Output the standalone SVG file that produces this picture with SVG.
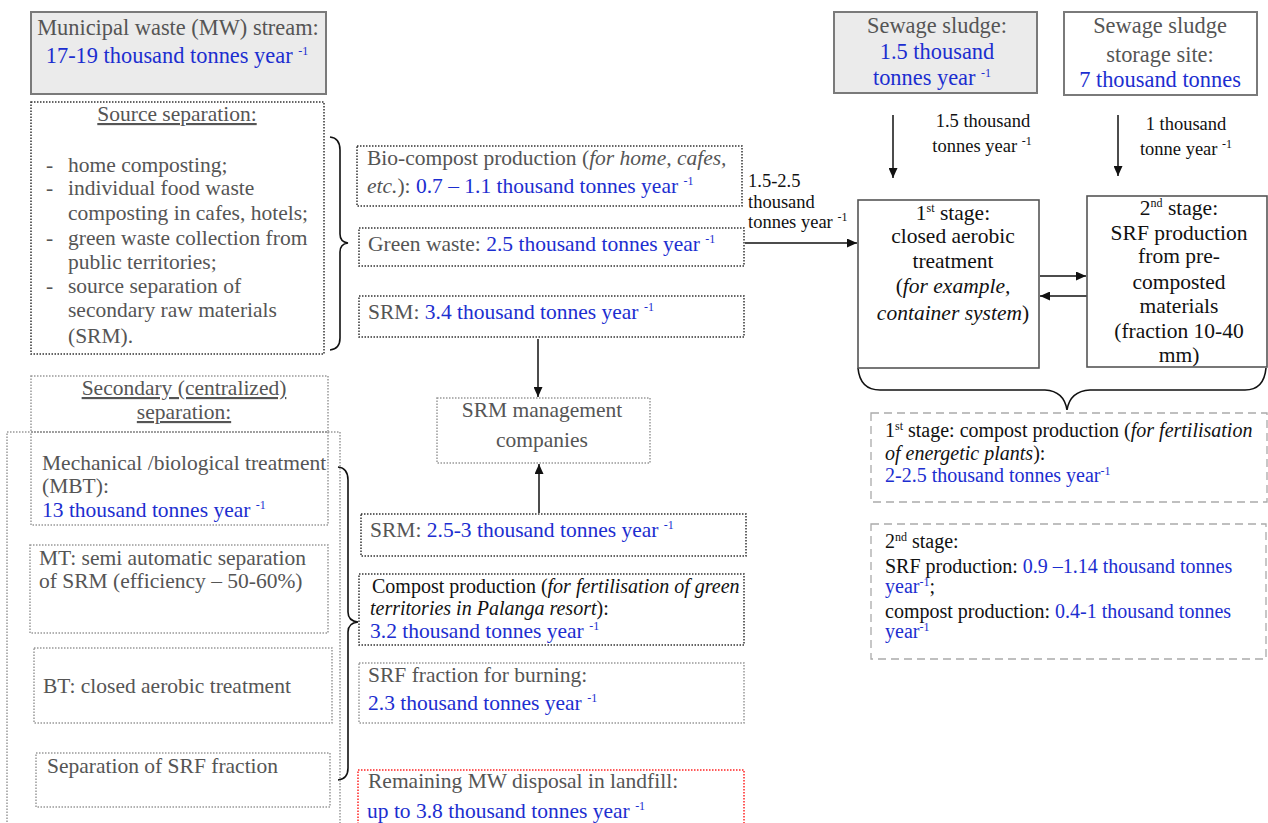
<svg xmlns="http://www.w3.org/2000/svg" width="1268" height="823" viewBox="0 0 1268 823">
<defs>
<style>
text{font-family:"Liberation Serif","Times New Roman",serif;}
.g{fill:#555;}
.k{fill:#111;}
.b{fill:#1c2ed0;}
.f21{font-size:21.5px;}
.f22{font-size:22.4px;}
.f18{font-size:18.5px;}
.f20{font-size:20px;}
.sup{font-size:12px;}
.it{font-style:italic;}
.u{text-decoration:underline;}
.mid{text-anchor:middle;}
.solid{fill:none;stroke:#555;stroke-width:1.6;}
.head{fill:#ebebeb;stroke:#7a7a7a;stroke-width:2;}
.headw{fill:#fff;stroke:#7a7a7a;stroke-width:2;}
.dk{fill:none;stroke:#333;stroke-width:1.5;stroke-dasharray:1.5 1.5;}
.gr{fill:none;stroke:#999;stroke-width:1.5;stroke-dasharray:1.5 1.5;}
.rd{fill:none;stroke:#f22;stroke-width:1.5;stroke-dasharray:1.5 1.5;}
.ds{fill:none;stroke:#aaa;stroke-width:1.3;stroke-dasharray:8 5;}
.brace{fill:none;stroke:#111;stroke-width:1.6;}
.arr{fill:none;stroke:#111;stroke-width:1.5;marker-end:url(#ah);}
</style>
<marker id="ah" markerUnits="userSpaceOnUse" markerWidth="10" markerHeight="9" refX="10" refY="4.5" orient="auto">
<path d="M0,0 L10,4.5 L0,9 z" fill="#111"/>
</marker>
</defs>

<g id="connectors">
<path class="arr" d="M538,339 L538,397"/>
<path class="arr" d="M539,513 L539,464"/>
<path class="arr" d="M745,243 L857,243"/>
<path class="arr" d="M893,115 L893,178"/>
<path class="arr" d="M1118,115 L1118,176"/>
<path class="arr" d="M1040,276 L1086,276"/>
<path class="arr" d="M1087,296 L1040,296"/>
<path class="brace" d="M330,137 Q340,138 340,150 L340,234 Q340,242 348,243 Q340,244 340,252 L340,338 Q340,349 330,350"/>
<path class="brace" d="M338,467 Q348,468 348,480 L348,612 Q348,621 358,622 Q348,623 348,632 L348,768 Q348,779 338,780"/>
<path class="brace" d="M858,368 Q860,390 880,390 L1045,390 Q1064,391 1067,410 Q1070,391 1090,390 L1245,390 Q1264,390 1266,368"/>
<text class="k f18" x="748" y="187">1.5-2.5</text>
<text class="k f18" x="748" y="208">thousand</text>
<text class="k f18" x="748" y="228">tonnes year <tspan class="sup" dy="-7">-1</tspan></text>
<text class="k f18 mid" x="983" y="127">1.5 thousand</text>
<text class="k f18 mid" x="982" y="152">tonnes year <tspan class="sup" dy="-7">-1</tspan></text>
<text class="k f18 mid" x="1186" y="130">1 thousand</text>
<text class="k f18 mid" x="1186" y="155">tonne year <tspan class="sup" dy="-7">-1</tspan></text>
</g>

<g id="mw">
<rect class="head" x="31" y="12" width="295" height="82"/>
<text class="g f22 mid" x="178" y="35">Municipal waste (MW) stream:</text>
<text class="b f22 mid" x="177" y="63">17-19 thousand tonnes year <tspan class="sup" dy="-8">-1</tspan></text>
</g>

<g id="source">
<rect class="dk" x="31" y="102" width="293" height="252"/>
<text class="g f21 mid u" x="177" y="121">Source separation:</text>
<g class="g f21">
<text x="46" y="172">-</text><text x="68" y="172">home composting;</text>
<text x="46" y="195">-</text><text x="68" y="195">individual food waste</text>
<text x="68" y="220">composting in cafes, hotels;</text>
<text x="46" y="245">-</text><text x="68" y="245">green waste collection from</text>
<text x="68" y="269">public territories;</text>
<text x="46" y="293">-</text><text x="68" y="293">source separation of</text>
<text x="68" y="317">secondary raw materials</text>
<text x="68" y="343">(SRM).</text>
</g>
</g>

<g id="biocompost">
<rect class="dk" x="357" y="146" width="385" height="60"/>
<text class="g f21" x="367" y="165">Bio-compost production (<tspan class="it">for home, cafes,</tspan></text>
<text class="g f21" x="367" y="193"><tspan class="it">etc.</tspan>): <tspan class="b">0.7 – 1.1 thousand tonnes year <tspan class="sup" dy="-8">-1</tspan></tspan></text>
</g>

<g id="green">
<rect class="dk" x="359" y="228" width="385" height="38"/>
<text class="g f21" x="368" y="251">Green waste: <tspan class="b">2.5 thousand tonnes year <tspan class="sup" dy="-8">-1</tspan></tspan></text>
</g>

<g id="srm1">
<rect class="dk" x="359" y="296" width="385" height="41"/>
<text class="g f21" x="368" y="319">SRM: <tspan class="b">3.4 thousand tonnes year <tspan class="sup" dy="-8">-1</tspan></tspan></text>
</g>

<g id="srmmgmt">
<rect class="gr" x="437" y="398" width="213" height="65"/>
<text class="g f21 mid" x="542" y="417">SRM management</text>
<text class="g f21 mid" x="542" y="447">companies</text>
</g>

<g id="srm2">
<rect class="dk" x="361" y="514" width="385" height="42"/>
<text class="g f21" x="370" y="537">SRM: <tspan class="b">2.5-3 thousand tonnes year <tspan class="sup" dy="-8">-1</tspan></tspan></text>
</g>

<g id="compost">
<rect class="dk" x="359" y="574" width="385" height="71"/>
<text class="k f20" x="372" y="593">Compost production (<tspan class="it">for fertilisation of green</tspan></text>
<text class="k f20" x="370" y="615"><tspan class="it">territories in Palanga resort</tspan>):</text>
<text class="b f21" x="370" y="638">3.2 thousand tonnes year <tspan class="sup" dy="-8">-1</tspan></text>
</g>

<g id="srffraction">
<rect class="gr" x="359" y="663" width="385" height="60"/>
<text class="g f21" x="368" y="682">SRF fraction for burning:</text>
<text class="b f21" x="368" y="710">2.3 thousand tonnes year <tspan class="sup" dy="-8">-1</tspan></text>
</g>

<g id="landfill">
<rect class="rd" x="358" y="770" width="386" height="70"/>
<text class="g f21" x="368" y="788">Remaining MW disposal in landfill:</text>
<text class="b f21" x="367" y="818">up to 3.8 thousand tonnes year <tspan class="sup" dy="-8">-1</tspan></text>
</g>

<g id="secondary">
<rect class="gr" x="7" y="432" width="333" height="420"/>
<rect class="gr" x="31" y="376" width="297" height="56"/>
<text class="g f21 mid u" x="184" y="395">Secondary (centralized)</text>
<text class="g f21 mid u" x="184" y="419">separation:</text>
</g>

<g id="mbt">
<rect class="gr" x="31" y="432" width="297" height="93"/>
<text class="g f21" x="42" y="470">Mechanical /biological treatment</text>
<text class="g f21" x="42" y="493">(MBT):</text>
<text class="b f21" x="42" y="517">13 thousand tonnes year <tspan class="sup" dy="-8">-1</tspan></text>
</g>

<g id="mt">
<rect class="gr" x="30" y="545" width="298" height="88"/>
<text class="g f21" x="39" y="565">MT: semi automatic separation</text>
<text class="g f21" x="39" y="588">of SRM (efficiency – 50-60%)</text>
</g>

<g id="bt">
<rect class="gr" x="34" y="648" width="298" height="75"/>
<text class="g f21" x="43" y="693">BT: closed aerobic treatment</text>
</g>

<g id="srfsep">
<rect class="gr" x="36" y="753" width="294" height="54"/>
<text class="g f21" x="47" y="773">Separation of SRF fraction</text>
</g>

<g id="sludge">
<rect class="head" x="834" y="12" width="203" height="81"/>
<text class="g f22 mid" x="937" y="33">Sewage sludge:</text>
<text class="b f22 mid" x="937" y="59">1.5 thousand</text>
<text class="b f22 mid" x="932" y="85">tonnes year <tspan class="sup" dy="-8">-1</tspan></text>
</g>

<g id="storage">
<rect class="headw" x="1064" y="12" width="193" height="83"/>
<text class="g f22 mid" x="1160" y="33">Sewage sludge</text>
<text class="g f22 mid" x="1160" y="62">storage site:</text>
<text class="b f22 mid" x="1160" y="87">7 thousand tonnes</text>
</g>

<g id="stage1">
<rect class="solid" x="858" y="200" width="181" height="168"/>
<g class="k f21 mid">
<text x="953" y="220">1<tspan class="sup" dy="-8">st</tspan><tspan dy="8"> stage:</tspan></text>
<text x="953" y="243">closed aerobic</text>
<text x="953" y="268">treatment</text>
<text x="953" y="293">(<tspan class="it">for example,</tspan></text>
<text x="953" y="320"><tspan class="it">container system</tspan>)</text>
</g>
</g>

<g id="stage2">
<rect class="solid" x="1087" y="196" width="180" height="171"/>
<g class="k f21 mid">
<text x="1179" y="215">2<tspan class="sup" dy="-8">nd</tspan><tspan dy="8"> stage:</tspan></text>
<text x="1179" y="240">SRF production</text>
<text x="1179" y="263">from pre-</text>
<text x="1179" y="289">composted</text>
<text x="1179" y="313">materials</text>
<text x="1179" y="338">(fraction 10-40</text>
<text x="1179" y="362">mm)</text>
</g>
</g>

<g id="result1">
<rect class="ds" x="871" y="413" width="396" height="89"/>
<text class="k f20" x="885" y="437">1<tspan class="sup" dy="-7">st</tspan><tspan dy="7"> stage: compost production (</tspan><tspan class="it">for fertilisation</tspan></text>
<text class="k f20" x="885" y="460"><tspan class="it">of energetic plants</tspan>):</text>
<text class="b f20" x="885" y="482">2-2.5 thousand tonnes year<tspan class="sup" dy="-7">-1</tspan></text>
</g>

<g id="result2">
<rect class="ds" x="871" y="524" width="395" height="135"/>
<text class="k f20" x="885" y="548">2<tspan class="sup" dy="-7">nd</tspan><tspan dy="7"> stage:</tspan></text>
<text class="k f20" x="885" y="573">SRF production: <tspan class="b">0.9 –1.14 thousand tonnes</tspan></text>
<text class="k f20" x="885" y="593"><tspan class="b">year<tspan class="sup" dy="-7">-1</tspan></tspan><tspan dy="7">;</tspan></text>
<text class="k f20" x="885" y="618">compost production: <tspan class="b">0.4-1 thousand tonnes</tspan></text>
<text class="b f20" x="885" y="638">year<tspan class="sup" dy="-7">-1</tspan></text>
</g>
</svg>
